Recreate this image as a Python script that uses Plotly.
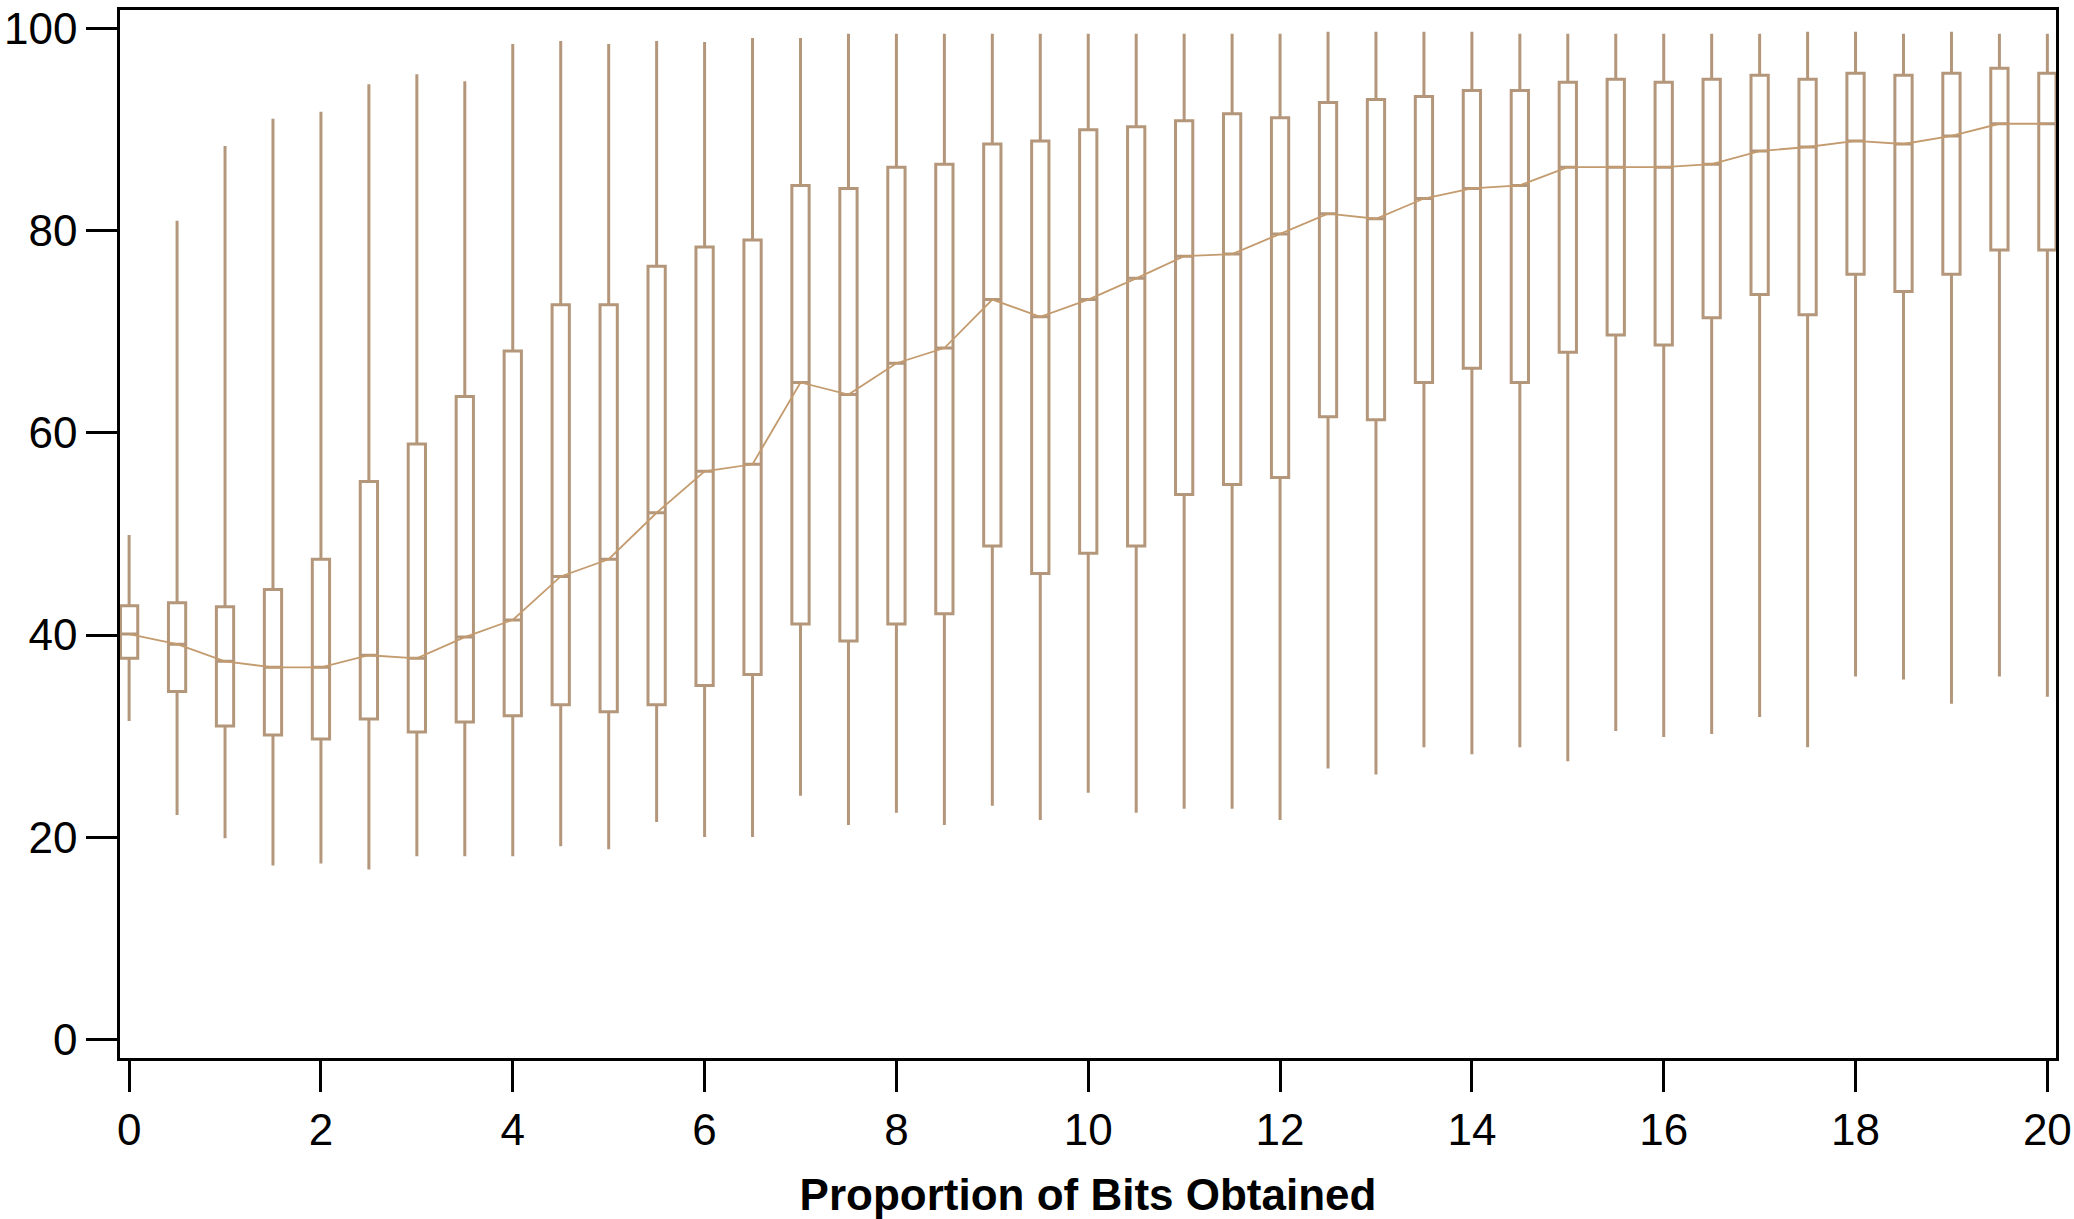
import plotly.graph_objects as go

positions = [i * 0.5 for i in range(41)]
upper = [49.9, 81.0, 88.4, 91.1, 91.8, 94.5, 95.5, 94.8, 98.5, 98.8, 98.5, 98.8,
         98.7, 99.1, 99.1, 99.5, 99.5, 99.5, 99.5, 99.5, 99.5, 99.5, 99.5, 99.5, 99.5,
         99.7, 99.7, 99.7, 99.7, 99.5, 99.5, 99.5, 99.5, 99.5, 99.5, 99.7, 99.7, 99.5,
         99.7, 99.5, 99.5]
q3 = [42.9, 43.2, 42.8, 44.5, 47.5, 55.2, 58.9, 63.6, 68.1, 72.7, 72.7, 76.5,
      78.4, 79.1, 84.5, 84.2, 86.3, 86.6, 88.6, 88.9, 90.0, 90.3, 90.9, 91.6, 91.2,
      92.7, 93.0, 93.3, 93.9, 93.9, 94.7, 95.0, 94.7, 95.0, 95.4, 95.0, 95.6, 95.4,
      95.6, 96.1, 95.6]
medians = [40.1, 39.1, 37.4, 36.8, 36.8, 38.0, 37.7, 39.8, 41.5, 45.8, 47.5, 52.1,
           56.2, 56.9, 65.0, 63.8, 66.9, 68.4, 73.2, 71.5, 73.2, 75.3, 77.5, 77.7, 79.7,
           81.7, 81.2, 83.2, 84.2, 84.5, 86.3, 86.3, 86.3, 86.6, 87.9, 88.3, 88.9, 88.6,
           89.4, 90.6, 90.6]
q1 = [37.7, 34.4, 31.0, 30.1, 29.7, 31.7, 30.4, 31.4, 32.0, 33.1, 32.4, 33.1,
      35.0, 36.1, 41.1, 39.4, 41.1, 42.1, 48.8, 46.1, 48.1, 48.8, 53.9, 54.9, 55.6,
      61.6, 61.3, 65.0, 66.4, 65.0, 68.0, 69.7, 68.7, 71.4, 73.7, 71.7, 75.7, 74.0,
      75.7, 78.1, 78.1]
lower = [31.5, 22.2, 19.9, 17.2, 17.4, 16.8, 18.1, 18.1, 18.1, 19.1, 18.8, 21.5,
         20.0, 20.0, 24.1, 21.2, 22.4, 21.2, 23.1, 21.7, 24.4, 22.4, 22.8, 22.8, 21.7,
         26.8, 26.2, 28.9, 28.2, 28.9, 27.5, 30.5, 29.9, 30.2, 31.9, 28.9, 35.9, 35.6,
         33.2, 35.9, 33.9]

x_ticks = [0, 2, 4, 6, 8, 10, 12, 14, 16, 18, 20]
y_ticks = [0, 20, 40, 60, 80, 100]
x_title = "Proportion of Bits Obtained"

box_color = "#B4977B"
line_color = "#C49B6E"

fig = go.Figure()
fig.add_trace(go.Box(
    x=positions, q1=q1, median=medians, q3=q3,
    lowerfence=lower, upperfence=upper,
    width=0.18, whiskerwidth=0,
    fillcolor="white", line=dict(color=box_color, width=3),
    boxpoints=False, showlegend=False, hoverinfo="skip",
))
fig.add_trace(go.Scatter(
    x=positions, y=medians, mode="lines",
    line=dict(color=line_color, width=1.8),
    showlegend=False, hoverinfo="skip",
))

fig.update_layout(
    width=2074, height=1219,
    margin=dict(l=120, r=17.5, t=10, b=161, autoexpand=False),
    paper_bgcolor="white", plot_bgcolor="white",
    font=dict(family="Liberation Sans, Arial, sans-serif", color="black"),
)
fig.update_xaxes(
    range=[-0.095, 20.09], tickvals=x_ticks, ticktext=[str(v) for v in x_ticks],
    ticks="outside", ticklen=31, tickwidth=2.5, tickcolor="black",
    showline=True, linewidth=2.6, linecolor="black", mirror=True,
    showgrid=False, zeroline=False, automargin=False,
    tickfont=dict(size=44),
    title=dict(text="<b>" + x_title + "</b>", font=dict(size=44), standoff=31),
)
fig.update_yaxes(
    range=[-1.86, 101.86], tickvals=y_ticks, ticktext=[str(v) for v in y_ticks],
    ticks="outside", ticklen=31, tickwidth=2.5, tickcolor="black",
    showline=True, linewidth=2.6, linecolor="black", mirror=True,
    showgrid=False, zeroline=False, automargin=False,
    tickfont=dict(size=44),
)

fig.write_html(
    "out.html",
    config={"displayModeBar": False},
    post_script="document.body.style.margin='0';document.body.style.overflow='hidden';",
)
